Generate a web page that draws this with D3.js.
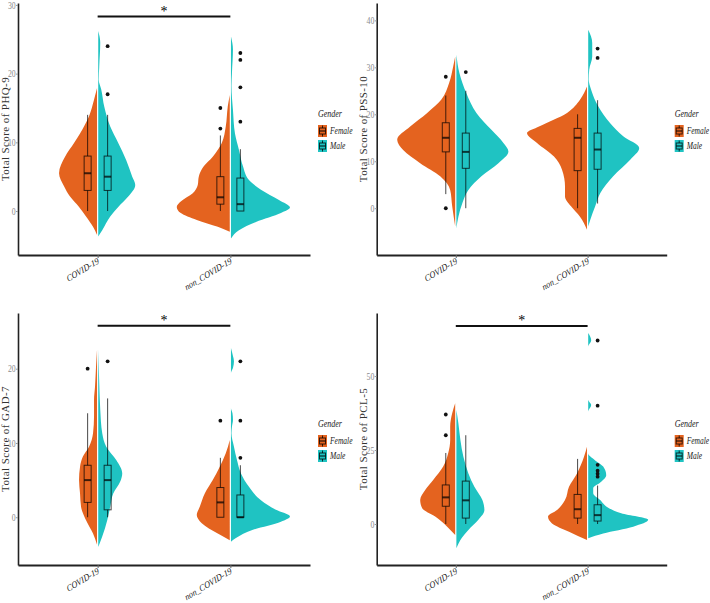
<!DOCTYPE html>
<html><head><meta charset="utf-8">
<script src="https://cdn.jsdelivr.net/npm/d3@7"></script>
<style>body{margin:0;background:#fff}svg{display:block}</style>
</head><body><svg id="c" width="710" height="603"></svg>
<script>
// ---------------- DATA ----------------
const categories = ["COVID-19", "non_COVID-19"];
const genders = ["Female", "Male"];
const panelTitles = ["Total Score of PHQ-9", "Total Score of PSS-10", "Total Score of GAD-7", "Total Score of PCL-5"];
const yTicksPHQ = [0, 10, 20, 30];
const yTicksPSS = [0, 10, 20, 30, 40];
const yTicksGAD = [0, 10, 20];
const yTicksPCL = [0, 25, 50];

// violin profiles: [score, relative density]
const phqFemaleCovid = [[-3.5,0],[-2.3,4],[-0.8,11],[0.6,18],[2.1,27],[3.6,33],[5.5,38],[7.9,32],[9.9,23],[11.3,17],[13.8,8],[16.2,3],[17.9,0]];
const phqMaleCovid = [[-3.7,0],[-2.8,4],[-0.8,12],[0.6,20],[2.1,30],[3.8,37],[5.0,34],[7.4,28],[9.9,20],[12.3,12],[15.2,6],[17.7,3],[19.1,0.5],[21,1],[24.5,2],[26.2,0]];
const phqFemaleNon = [[-3.0,0],[-2.3,12],[-1.3,33],[-0.3,49],[0.6,53],[1.4,49],[2.6,37],[3.8,32],[5.0,31],[6.5,26],[7.9,17],[9.9,8],[12.3,4],[15.2,2],[16.9,0]];
const phqMaleNon = [[-4.0,0],[-2.8,8],[-1.6,25],[-0.3,50],[0.5,59],[1.6,48],[3.1,30],[4.5,18],[6.5,12],[8.9,8],[11.3,4],[14.7,2],[18.2,0.5],[20.1,1],[23.5,2],[25.4,0]];

const pssFemaleCovid = [[-3.9,0],[-2.5,1],[0.4,3],[3.9,5],[6.8,15],[9.6,35],[12.4,52],[14.6,58],[17.4,45],[20.3,28],[23.1,14],[26.7,6],[30.2,2],[32.3,0]];
const pssMaleCovid = [[-4.3,0],[-1.8,2],[1.1,6],[3.9,12],[6.8,25],[9.6,42],[12.1,52],[13.9,47],[16.7,35],[20.3,20],[24.5,10],[28.8,3],[32.7,0]];
const pssFemaleNon = [[-4.6,0],[-1.8,7],[0.4,16],[2.5,22],[4.6,22],[8.2,25],[11.0,33],[13.9,50],[16.0,60],[17.4,48],[20.3,20],[23.1,7],[25.9,0]];
const pssMaleNon = [[-3.9,0],[-2.5,2],[0.4,7],[3.2,12],[6.8,25],[10.3,42],[12.8,51],[15.3,35],[18.1,22],[21.7,10],[25.2,3],[27.4,0.5],[29.5,1],[32.3,4],[35.2,4],[38.0,0]];

const gadFemaleCovid = [[-3.7,0],[-2.2,4],[-0.4,11],[1.4,16],[3.2,17],[5.0,18],[6.8,17],[8.2,14],[9.5,8],[11.3,4],[13.6,3],[15.8,3],[17.6,2],[20.3,1],[22.6,0]];
const gadMaleCovid = [[-4.0,0],[-2.6,4],[-0.4,9],[1.4,12],[3.2,15],[4.8,22],[5.9,24],[7.7,18],[9.5,8],[11.3,4],[14.5,2],[18.1,1],[22.6,0]];
const gadFemaleNon = [[-3.1,0],[-2.2,12],[-0.8,28],[0.3,33],[1.4,30],[3.2,25],[5.0,17],[6.8,10],[8.6,4],[10.4,0]];
const gadMaleNon = [[-3.3,0],[-2.8,5],[-1.7,22],[-0.6,50],[0.1,59],[1.0,45],[2.3,30],[4.1,18],[5.9,10],[7.7,6],[9.5,3],[11.3,0.5],[12.2,1],[13.1,2],[14.0,1.5],[14.7,0],[19.4,0],[20.1,2],[21.0,3],[21.7,2],[22.8,0]];

const pclFemaleCovid = [[-3.7,0],[-0.9,8],[2.5,20],[5.3,33],[8.1,35],[11.5,30],[14.9,22],[19.4,12],[23.9,7],[28.4,5],[32.9,5],[37.4,3],[40.8,0]];
const pclMaleCovid = [[-8.2,0],[-5.4,4],[-2.0,12],[1.4,22],[4.7,28],[8.1,26],[12.6,18],[17.1,12],[22.7,7],[28.4,4],[34.0,2],[38.5,0]];
const pclFemaleNon = [[-5.4,0],[-2.6,18],[0.2,35],[2.5,39],[4.7,30],[8.1,22],[12.6,18],[17.1,10],[22.7,3],[26.1,0]];
const pclMaleNon = [[-4.8,0],[-3.2,15],[-0.9,45],[1.4,60],[3.6,33],[5.5,20],[8.1,12],[10.4,5],[12.1,5],[14.0,12],[16.5,18],[19.4,15],[21.5,7],[23.9,0],[38.0,0],[40.2,3],[42.0,0],[60.0,0],[62.0,3],[64.5,0]];

// box stats: [lower whisker, q1, median, q3, upper whisker]
const phqBoxFemaleCovid = [0,3,5.5,8,14], phqBoxMaleCovid = [0,3,5,8,14], phqBoxFemaleNon = [0,1,2,5,11], phqBoxMaleNon = [0,0,1,4.8,9];
const pssBoxFemaleCovid = [3,12,15,18.2,24], pssBoxMaleCovid = [0,8.5,12,16,25], pssBoxFemaleNon = [0,8,15,17,20], pssBoxMaleNon = [1,8.3,12.5,16,23];
const gadBoxFemaleCovid = [0,2,5,7,14], gadBoxMaleCovid = [0,1,5,7,16], gadBoxFemaleNon = [0,0,2,4,8], gadBoxMaleNon = [0,0,0,3,7];
const pclBoxFemaleCovid = [0,6,9,13.2,24], pclBoxMaleCovid = [0,2,8,14.5,30], pclBoxFemaleNon = [0,2,5,10,22], pclBoxMaleNon = [0,1,3,6.5,13];

// outliers
const phqOutFemaleCovid = [], phqOutMaleCovid = [17,24], phqOutFemaleNon = [12,15], phqOutMaleNon = [13,18,22,23];
const pssOutFemaleCovid = [0,28], pssOutMaleCovid = [29], pssOutFemaleNon = [], pssOutMaleNon = [32,34];
const gadOutFemaleCovid = [20], gadOutMaleCovid = [21], gadOutFemaleNon = [13], gadOutMaleNon = [8,13,21];
const pclOutFemaleCovid = [30,37], pclOutMaleCovid = [], pclOutFemaleNon = [], pclOutMaleNon = [16,17,18,20,40,62];

// significance bars: [category from, category to, y value, label]
const sigPHQ = ["COVID-19","non_COVID-19",28.3,"*"];
const sigGAD = ["COVID-19","non_COVID-19",25.8,"*"];
const sigPCL = ["COVID-19","non_COVID-19",66.9,"*"];

// ---------------- LAYOUT / STYLE ----------------
const colors = {Female: "#E4631F", Male: "#1FC3C2"};
const serif = "'Liberation Serif','DejaVu Serif',serif";

const panels = [
  {title: panelTitles[0], ticks: yTicksPHQ, domain: [-6.4, 30.28], left: 18, right: 310, top: 3, bottom: 255,
   violins: {Female: [phqFemaleCovid, phqFemaleNon], Male: [phqMaleCovid, phqMaleNon]},
   boxes: {Female: [phqBoxFemaleCovid, phqBoxFemaleNon], Male: [phqBoxMaleCovid, phqBoxMaleNon]},
   outs: {Female: [phqOutFemaleCovid, phqOutFemaleNon], Male: [phqOutMaleCovid, phqOutMaleNon]}, sig: sigPHQ},
  {title: panelTitles[1], ticks: yTicksPSS, domain: [-9.96, 43.7], left: 376.7, right: 666.7, top: 3, bottom: 255,
   violins: {Female: [pssFemaleCovid, pssFemaleNon], Male: [pssMaleCovid, pssMaleNon]},
   boxes: {Female: [pssBoxFemaleCovid, pssBoxFemaleNon], Male: [pssBoxMaleCovid, pssBoxMaleNon]},
   outs: {Female: [pssOutFemaleCovid, pssOutFemaleNon], Male: [pssOutMaleCovid, pssOutMaleNon]}, sig: null},
  {title: panelTitles[2], ticks: yTicksGAD, domain: [-6.43, 27.5], left: 18, right: 310, top: 313, bottom: 565,
   violins: {Female: [gadFemaleCovid, gadFemaleNon], Male: [gadMaleCovid, gadMaleNon]},
   boxes: {Female: [gadBoxFemaleCovid, gadBoxFemaleNon], Male: [gadBoxMaleCovid, gadBoxMaleNon]},
   outs: {Female: [gadOutFemaleCovid, gadOutFemaleNon], Male: [gadOutMaleCovid, gadOutMaleNon]}, sig: sigGAD},
  {title: panelTitles[3], ticks: yTicksPCL, domain: [-13.85, 71.3], left: 376.7, right: 666.7, top: 313, bottom: 565,
   violins: {Female: [pclFemaleCovid, pclFemaleNon], Male: [pclMaleCovid, pclMaleNon]},
   boxes: {Female: [pclBoxFemaleCovid, pclBoxFemaleNon], Male: [pclBoxMaleCovid, pclBoxMaleNon]},
   outs: {Female: [pclOutFemaleCovid, pclOutFemaleNon], Male: [pclOutMaleCovid, pclOutMaleNon]}, sig: sigPCL}
];

const svg = d3.select("#c");
const wScale = d3.scaleLinear().domain([0, 60]).range([0, 60]);

panels.forEach(p => {
  const g = svg.append("g");
  const x = d3.scalePoint().domain(categories).range([p.left, p.right]).padding(0.6);
  const y = d3.scaleLinear().domain(p.domain).range([p.bottom, p.top]);

  // violins
  genders.forEach(gd => {
    const sign = gd === "Female" ? -1 : 1;
    categories.forEach((cat, ci) => {
      const cx = x(cat) + sign * 0.6;
      const area = d3.area()
        .curve(d3.curveMonotoneY)
        .y(d => y(d[0]))
        .x0(cx)
        .x1(d => cx + sign * wScale(d[1]));
      g.append("path").datum(p.violins[gd][ci]).attr("d", area).attr("fill", colors[gd]).attr("stroke", "none");
    });
  });

  // boxes
  genders.forEach(gd => {
    const off = gd === "Female" ? -10 : 10;
    categories.forEach((cat, ci) => {
      const b = p.boxes[gd][ci];
      const bx = x(cat) + off;
      const bw = 7;
      const bg = g.append("g").attr("stroke", "#000").attr("stroke-opacity", 0.72).attr("fill", "none");
      bg.append("line").attr("x1", bx).attr("x2", bx).attr("y1", y(b[0])).attr("y2", y(b[1])).attr("stroke-width", 1);
      bg.append("line").attr("x1", bx).attr("x2", bx).attr("y1", y(b[3])).attr("y2", y(b[4])).attr("stroke-width", 1);
      bg.append("rect").attr("x", bx - bw/2).attr("width", bw).attr("y", y(b[3])).attr("height", Math.max(0.5, y(b[1]) - y(b[3]))).attr("stroke-width", 1);
      bg.append("line").attr("x1", bx - bw/2).attr("x2", bx + bw/2).attr("y1", y(b[2])).attr("y2", y(b[2])).attr("stroke-width", 2);
      p.outs[gd][ci].forEach(v => {
        g.append("circle").attr("cx", bx).attr("cy", y(v)).attr("r", 1.9).attr("fill", "#111");
      });
    });
  });

  // axes
  const ya = d3.axisLeft(y).tickValues(p.ticks).tickSize(2).tickSizeOuter(0).tickPadding(1);
  const yg = g.append("g").attr("transform", `translate(${p.left},0)`).call(ya);
  yg.select(".domain").attr("stroke", "#222").attr("stroke-width", 1.6);
  yg.selectAll(".tick line").attr("stroke", "#999");
  yg.selectAll(".tick text").attr("font-family", serif).attr("font-size", 10).attr("fill", "#8c8c8c")
    .attr("transform", "scale(0.78,1)");

  const xa = d3.axisBottom(x).tickSize(3).tickSizeOuter(0).tickFormat(() => "");
  const xg = g.append("g").attr("transform", `translate(0,${p.bottom})`).call(xa);
  xg.select(".domain").attr("stroke", "#222").attr("stroke-width", 2);
  xg.selectAll(".tick line").attr("stroke", "#666");
  categories.forEach(cat => {
    g.append("text").attr("transform", `translate(${x(cat) + 2},${p.bottom + 8}) scale(0.85,1) rotate(-27)`)
      .attr("text-anchor", "end").attr("font-family", serif).attr("font-style", "italic")
      .attr("font-size", 9.5).attr("fill", "#222").text(cat);
  });

  // y title
  g.append("text").attr("transform", `translate(${p.left - 9.5},${(p.top + p.bottom) / 2}) rotate(-90)`)
    .attr("text-anchor", "middle").attr("font-family", serif).attr("font-size", 11)
    .attr("letter-spacing", 0.4).attr("fill", "#333").text(p.title);

  // significance
  if (p.sig) {
    const sy = y(p.sig[2]);
    g.append("line").attr("x1", x(p.sig[0])).attr("x2", x(p.sig[1])).attr("y1", sy).attr("y2", sy)
      .attr("stroke", "#111").attr("stroke-width", 2);
    g.append("text").attr("x", (x(p.sig[0]) + x(p.sig[1])) / 2).attr("y", sy - 1)
      .attr("text-anchor", "middle").attr("font-family", serif).attr("font-size", 14).attr("fill", "#000").text(p.sig[3]);
  }

  // legend
  const lx = p.right + 8;
  const ly = p.top + 110;
  const lg = g.append("g").attr("transform", `translate(${lx},${ly})`);
  lg.append("text").attr("transform", "translate(0,4) scale(0.8,1)").attr("font-family", serif).attr("font-style", "italic")
    .attr("font-size", 10).attr("fill", "#222").text("Gender");
  genders.forEach((gd, i) => {
    const ky = 12 + i * 15;
    lg.append("rect").attr("x", 0).attr("y", ky).attr("width", 9).attr("height", 12).attr("fill", colors[gd]);
    const kg = lg.append("g").attr("stroke", "#000").attr("stroke-opacity", 0.75).attr("fill", "none");
    kg.append("line").attr("x1", 4.5).attr("x2", 4.5).attr("y1", ky + 0.5).attr("y2", ky + 11.5);
    kg.append("rect").attr("x", 1.5).attr("y", ky + 3).attr("width", 6).attr("height", 6).attr("fill", colors[gd]);
    kg.append("line").attr("x1", 1.5).attr("x2", 7.5).attr("y1", ky + 6).attr("y2", ky + 6).attr("stroke-width", 1.3);
    lg.append("text").attr("transform", `translate(12,${ky + 9}) scale(0.75,1)`).attr("font-family", serif).attr("font-style", "italic")
      .attr("font-size", 10).attr("fill", "#222").text(gd);
  });
});
</script></body></html>
